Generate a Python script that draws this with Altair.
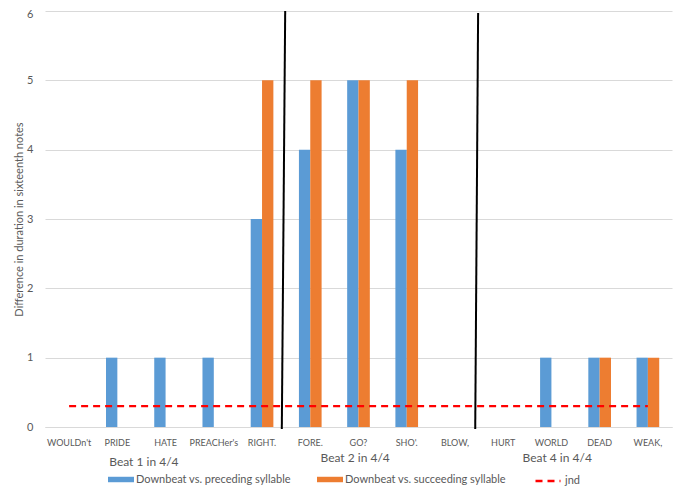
import altair as alt
import pandas as pd

# ---- data ----
cats = ["WOULDn't", "PRIDE", "HATE", "PREACHer's", "RIGHT.", "FORE.", "GO?",
        "SHO'.", "BLOW,", "HURT", "WORLD", "DEAD", "WEAK,"]
preceding = [0, 1, 1, 1, 3, 4, 5, 4, 0, 0, 1, 1, 1]
succeeding = [0, 0, 0, 0, 5, 5, 5, 5, 0, 0, 0, 1, 1]
jnd_value = 0.3

series_names = ["Downbeat vs. preceding syllable", "Downbeat vs. succeeding syllable"]
series_colors = ["#5B9BD5", "#ED7D31"]

# annotation texts, positioned in category units (0..13) and y-units
beat_labels = ["Beat 1 in 4/4", "Beat 2 in 4/4", "Beat 4 in 4/4"]
beat_x = [2.05, 6.43, 10.62]
beat_y = [-0.5, -0.44, -0.44]

# hand-drawn divider lines (category units), bottom and top ends
divider_ids = ["d1", "d2"]
divider_x_bottom = [4.91, 8.92]
divider_x_top = [4.98, 8.98]
divider_y_bottom = [-0.03, -0.03]
divider_y_top = [6.0, 5.97]

# ---- tables ----
bars_df = pd.DataFrame(
    [{"cat": c, "series": series_names[0], "value": v} for c, v in zip(cats, preceding)]
    + [{"cat": c, "series": series_names[1], "value": v} for c, v in zip(cats, succeeding)]
)
jnd_df = pd.DataFrame({"cat": cats, "value": [jnd_value] * len(cats), "series": ["jnd"] * len(cats)})
div_df = pd.DataFrame(
    [{"id": i, "xpos": xb, "yv": yb} for i, xb, yb in zip(divider_ids, divider_x_bottom, divider_y_bottom)]
    + [{"id": i, "xpos": xt, "yv": yt} for i, xt, yt in zip(divider_ids, divider_x_top, divider_y_top)]
)
beat_df = pd.DataFrame({"label": beat_labels, "bx": beat_x, "by": beat_y})

FONT = "Lato"
TXT = "#595959"
GRID = "#D9D9D9"
W, H = 627, 416

yscale = alt.Scale(domain=[0, 6], nice=False, zero=True)
yaxis = alt.Axis(
    title="Difference in duration in sixteenth notes",
    values=[0, 1, 2, 3, 4, 5, 6], format="d",
    grid=True, gridColor=GRID, domain=False, ticks=False,
    labelPadding=12, labelFontSize=11, labelColor=TXT, labelFont=FONT,
    labelOffset={"condition": {"test": "datum.value == 6", "value": 3.5}, "value": 0},
    titleFont=FONT, titleFontSize=11, titleFontWeight="normal", titleColor=TXT,
    titlePadding=2,
)
xcat = alt.X(
    "cat:N", sort=cats,
    scale=alt.Scale(paddingInner=0.53, paddingOuter=0.265),
    axis=alt.Axis(title=None, labelAngle=0, ticks=False, domainColor=GRID,
                  labelPadding=11, labelFontSize=9, labelColor=TXT, labelFont=FONT),
)

bars = alt.Chart(bars_df).mark_bar().encode(
    x=xcat,
    xOffset=alt.XOffset("series:N", sort=series_names,
                        scale=alt.Scale(paddingInner=0, paddingOuter=0)),
    y=alt.Y("value:Q", scale=yscale, axis=yaxis),
    color=alt.Color(
        "series:N", scale=alt.Scale(domain=series_names, range=series_colors),
        legend=alt.Legend(
            title=None, orient="none", legendX=63, legendY=455.5, direction="horizontal",
            symbolType="M-1,-0.21H1V0.21H-1Z", symbolSize=676, symbolStrokeWidth=0,
            labelFont=FONT, labelFontSize=11, labelColor=TXT, labelOffset=2,
            labelLimit=400, columnPadding=26, padding=0,
        ),
    ),
)

jnd_line = alt.Chart(jnd_df).mark_line(color="#FF0000", strokeWidth=2.25).encode(
    x=alt.X("cat:N", sort=cats),
    y=alt.Y("value:Q", scale=yscale),
    strokeDash=alt.StrokeDash(
        "series:N", scale=alt.Scale(domain=["jnd"], range=[[7, 5]]),
        legend=alt.Legend(
            title=None, orient="none", legendX=489, legendY=456, symbolType="stroke",
            symbolSize=625, symbolStrokeColor="#FF0000", symbolStrokeWidth=2.5,
            symbolDash=[7, 6],
            labelFont=FONT, labelFontSize=11, labelColor=TXT, labelOffset=3, padding=0,
        ),
    ),
)

qx = alt.Scale(domain=[0, 13], nice=False, zero=False)

dividers = alt.Chart(div_df).mark_line(color="black", strokeWidth=2).encode(
    x=alt.X("xpos:Q", scale=qx, axis=None),
    y=alt.Y("yv:Q", scale=yscale),
    detail="id:N",
)

beats = alt.Chart(beat_df).mark_text(font=FONT, fontSize=12, color=TXT, baseline="middle").encode(
    x=alt.X("bx:Q", scale=qx, axis=None),
    y=alt.Y("by:Q", scale=yscale),
    text="label:N",
)

chart = alt.layer(
    alt.layer(bars, jnd_line),
    alt.layer(dividers, beats),
).resolve_scale(x="independent").properties(
    width=W, height=H,
    autosize=alt.AutoSizeParams(type="none"),
    padding={"left": 37, "top": 3, "right": 4, "bottom": 61},
    background="white",
).configure_view(stroke=None)

chart.save("out.html", embed_options={"renderer": "svg", "actions": False})
